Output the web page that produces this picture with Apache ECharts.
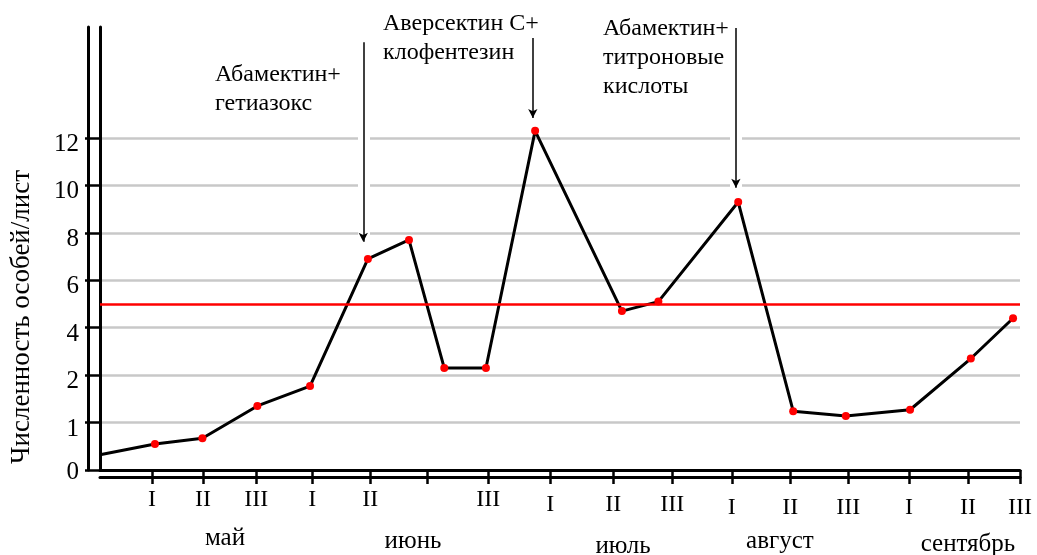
<!DOCTYPE html>
<html>
<head>
<meta charset="utf-8">
<script src="https://cdn.jsdelivr.net/npm/echarts@6/dist/echarts.min.js"></script>
<style>
  html, body { margin: 0; padding: 0; background: #fff; }
  #chart { width: 1037px; height: 555px; }
</style>
</head>
<body>
<div id="chart"></div>
<script>
// декады по оси X (положение отметки в шагах декад)
const decadeTicks = [1.00, 1.88, 2.80, 3.77, 4.77, 5.75, 6.81, 7.88, 8.97, 9.99, 11.02, 12.03, 13.03, 14.08, 15.10, 16.00];
const decadeLabels = ['I', 'II', 'III', 'I', 'II', '', 'III', 'I', 'II', 'III', 'I', 'II', 'III', 'I', 'II', 'III'];
const monthPos = [2.26, 5.51, 9.14, 11.85, 15.10];
const monthLabels = ['май', 'июнь', 'июль', 'август', 'сентябрь'];

// учёты: дата (в декадах) и численность особей/лист
const countX = [0.10, 1.05, 1.87, 2.82, 3.73, 4.73, 5.44, 6.05, 6.77, 7.62, 9.12, 9.75, 11.13, 12.08, 12.99, 14.10, 15.15, 15.88];
const countY = [0.32, 0.55, 0.67, 1.35, 1.77, 6.9, 7.7, 2.3, 2.3, 12.3, 4.7, 5.1, 9.3, 1.24, 1.14, 1.27, 2.7, 4.4];

// ось Y: подписи стоят на равных шагах
const yTickLabels = ['0', '1', '2', '4', '6', '8', '10', '12'];
const threshold = 5; // ЭПВ

// обработки
const treatments = ['Абамектин+\nгетиазокс', 'Аверсектин С+\nклофентезин', 'Абамектин+\nтитроновые\nкислоты'];
const treatmentX = [4.65, 7.58, 11.09];

const FONT = 'Liberation Serif';
const yTickValues = yTickLabels.map(Number);

// перевод численности в шаги оси (кусочно-линейно между подписями)
function toAxis(v) {
  for (let i = 1; i < yTickValues.length; i++) {
    if (v <= yTickValues[i]) {
      const a = yTickValues[i - 1], b = yTickValues[i];
      return i - 1 + (v - a) / (b - a);
    }
  }
  const n = yTickValues.length - 1;
  return n + (v - yTickValues[n]) / (yTickValues[n] - yTickValues[n - 1]);
}

// индекс отметки по значению
function nearest(values, v) {
  let best = 0;
  values.forEach((p, i) => { if (Math.abs(p - v) < Math.abs(values[best] - v)) best = i; });
  return best;
}

const chart = echarts.init(document.getElementById('chart'));

const yIdx = yTickLabels.map((_, i) => i);
const X_MIN = 0.1, X_MAX = 16, Y_MAX = 9.34;

const lineData = countX.map((x, i) => {
  const item = { value: [x, toAxis(countY[i])] };
  if (i === 0) item.symbol = 'none';
  return item;
});

// стрелки обработок (верх и острие в шагах оси)
const arrowTop = [9.02, 9.11, 9.32];
const arrowTip = [4.81, 7.42, 5.95];
const arrowLines = treatmentX.map((x, i) => [{ coord: [x, arrowTop[i]] }, { coord: [x, arrowTip[i]] }]);

const textPos = [[215, 60], [383, 9], [603, 14]];

// небольшой сдвиг подписей вниз, как на исходном рисунке
const decadeShift = (i) => (i < 7 ? 'a' : i < 10 ? 'b' : 'c');
const monthShift = ['a', 'b', 'd', 'b', 'c'];
const txt = { fontFamily: FONT, color: '#000' };

const option = {
  animation: false,
  grid: { left: 100, right: 17, top: 27, bottom: 85, outerBoundsMode: 'none' },
  xAxis: [
    {
      type: 'value', min: X_MIN, max: X_MAX, position: 'bottom',
      axisLine: { show: true, onZero: false, lineStyle: { color: '#000', width: 3 } },
      axisTick: { show: true, customValues: decadeTicks, length: 14, lineStyle: { color: '#000', width: 2.5 } },
      axisLabel: {
        customValues: decadeTicks, margin: 18,
        fontFamily: FONT, fontSize: 24, color: '#000',
        formatter: (v) => {
          const i = nearest(decadeTicks, v);
          return decadeLabels[i] ? `{${decadeShift(i)}|${decadeLabels[i]}}` : '';
        },
        rich: {
          a: { ...txt, fontSize: 24, padding: [0, 0, 0, 0] },
          b: { ...txt, fontSize: 24, padding: [5, 0, 0, 0] },
          c: { ...txt, fontSize: 24, padding: [8, 0, 0, 0] }
        }
      },
      splitLine: { show: false }
    },
    {
      type: 'value', min: X_MIN, max: X_MAX, position: 'bottom', offset: 7,
      axisLine: { show: true, onZero: false, lineStyle: { color: '#000', width: 3 } },
      axisTick: { show: false }, axisLabel: { show: false }, splitLine: { show: false }
    },
    {
      type: 'value', min: X_MIN, max: X_MAX, position: 'bottom',
      axisLine: { show: false, onZero: false }, axisTick: { show: false },
      axisLabel: {
        customValues: monthPos, margin: 56,
        fontFamily: FONT, fontSize: 25, color: '#000',
        formatter: (v) => {
          const i = nearest(monthPos, v);
          return `{${monthShift[i]}|${monthLabels[i]}}`;
        },
        rich: {
          a: { ...txt, fontSize: 25, padding: [0, 0, 0, 0] },
          b: { ...txt, fontSize: 25, padding: [3, 0, 0, 0] },
          c: { ...txt, fontSize: 25, padding: [6, 0, 0, 0] },
          d: { ...txt, fontSize: 25, padding: [8, 0, 0, 0] }
        }
      },
      splitLine: { show: false }
    }
  ],
  yAxis: [
    {
      type: 'value', min: 0, max: Y_MAX, position: 'left', offset: 12,
      axisLine: { show: true, onZero: false, lineStyle: { color: '#000', width: 3 } },
      axisTick: { show: false },
      axisLabel: {
        customValues: yIdx, margin: 9,
        fontFamily: FONT, fontSize: 25, color: '#000',
        formatter: (v) => {
          const i = nearest(yIdx, v);
          return `{${i === 0 ? 'z' : 'n'}|${yTickLabels[i]}}`;
        },
        rich: {
          n: { ...txt, fontSize: 25, padding: [13, 0, 0, 0] },
          z: { ...txt, fontSize: 25, padding: [4, 0, 0, 0] }
        }
      },
      splitLine: { show: false }
    },
    {
      type: 'value', min: 0, max: Y_MAX, position: 'left',
      axisLine: { show: true, onZero: false, lineStyle: { color: '#000', width: 3 } },
      axisTick: { show: true, customValues: yIdx, length: 15, lineStyle: { color: '#000', width: 2.5 } },
      axisLabel: { show: false, customValues: yIdx },
      splitLine: { show: true, lineStyle: { color: '#c8c8c8', width: 2.5 } }
    }
  ],
  series: [
    {
      name: 'halo', type: 'line', xAxisIndex: 0, yAxisIndex: 1, data: [], z: 1,
      markLine: {
        silent: true, symbol: ['none', 'none'], label: { show: false },
        lineStyle: { color: '#fff', width: 12, type: 'solid' },
        data: arrowLines
      }
    },
    {
      name: 'counts', type: 'line', xAxisIndex: 0, yAxisIndex: 1, z: 3,
      data: lineData,
      symbol: 'circle', symbolSize: 8,
      itemStyle: { color: '#ff0000' },
      lineStyle: { color: '#000', width: 3 },
      markLine: {
        silent: true, symbol: ['none', 'none'], label: { show: false },
        lineStyle: { color: '#ff0000', width: 2.5, type: 'solid' },
        data: [{ yAxis: toAxis(threshold) }]
      }
    },
    {
      name: 'arrows', type: 'line', xAxisIndex: 0, yAxisIndex: 1, data: [], z: 4,
      markLine: {
        silent: true, symbol: ['none', 'arrow'], symbolSize: [7, 9], label: { show: false },
        lineStyle: { color: '#000', width: 1.5, type: 'solid' },
        data: arrowLines
      }
    }
  ],
  graphic: [
    {
      type: 'text', x: 22, y: 317, rotation: Math.PI / 2,
      style: { text: 'Численность особей/лист', fontFamily: FONT, fontSize: 27, fill: '#000', align: 'center', verticalAlign: 'middle' }
    }
  ].concat(treatments.map((t, i) => ({
    type: 'text', left: textPos[i][0], top: textPos[i][1],
    style: { text: t, fontFamily: FONT, fontSize: 24, lineHeight: 29, fill: '#000' }
  })))
};

chart.setOption(option);
window.addEventListener('resize', () => chart.resize());
</script>
</body>
</html>
